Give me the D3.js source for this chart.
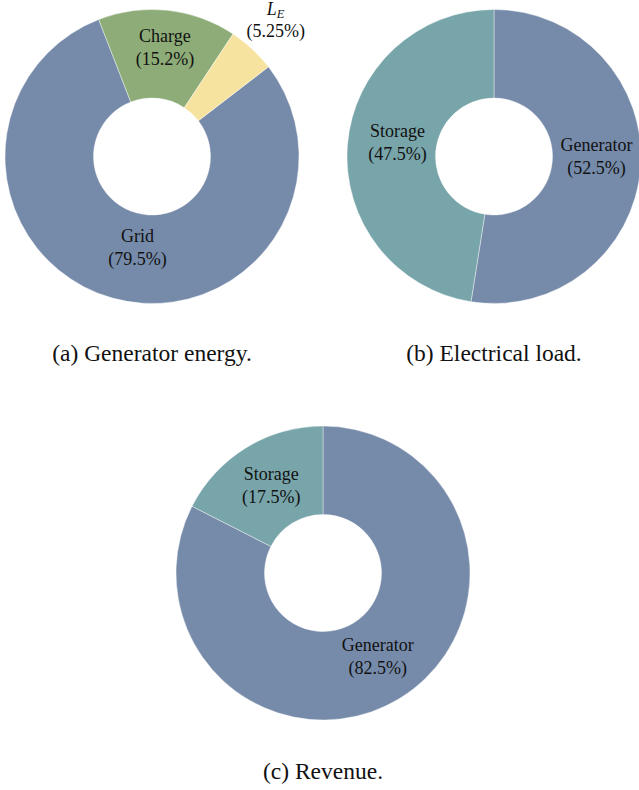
<!DOCTYPE html>
<html><head><meta charset="utf-8">
<script src="https://cdn.jsdelivr.net/npm/d3@7"></script>
<style>
body{margin:0;background:#fff}
#wrap{position:relative;width:639px;height:790px;overflow:hidden}
#wrap svg{position:absolute;left:0;top:0;display:block}
.lbl{position:absolute;white-space:nowrap;transform:translateX(-50%);
     font-family:"Liberation Serif", serif;color:#111;margin:0;padding:0}
</style>
</head><body><div id="wrap"><svg id="c" width="639" height="790"></svg></div>
<script>
// ---- data ----
const energyCategories = ["Grid", "Charge", "L_E"];
const energyValues = [79.5, 15.2, 5.25];
const loadCategories = ["Generator", "Storage"];
const loadValues = [52.5, 47.5];
const revenueCategories = ["Generator", "Storage"];
const revenueValues = [82.5, 17.5];
const captions = ["(a) Generator energy.", "(b) Electrical load.", "(c) Revenue."];

// ---- styles / layout ----
const colorOf = {Grid:"#768baa", Generator:"#768baa", Charge:"#8dac78", L_E:"#f7e3a0", Storage:"#78a5aa"};
const rOuter = 147, rInner = 58.5;
const deg = Math.PI/180;
const panels = [
  {cats:energyCategories, vals:energyValues, cx:152, cy:156.5, start:52.4, capY:362,
   nudge:{Grid:[13,-7.5], Charge:[2,-7]}, outside:{L_E:[181.5,-2]}},
  {cats:loadCategories, vals:loadValues, cx:494, cy:156.5, start:0, capY:362,
   nudge:{Generator:[0,-7.5], Storage:[6,-6]}, outside:{}},
  {cats:revenueCategories, vals:revenueValues, cx:323, cy:573, start:0, capY:780,
   nudge:{Generator:[1,-4], Storage:[2,0]}, outside:{}}
];

const svg = d3.select("#c");
const wrap = d3.select("#wrap");
const arc = d3.arc().innerRadius(rInner).outerRadius(rOuter);

// HTML text line centred at x with its baseline at y (Liberation Serif metrics)
function line(x, y, size) {
  const baselineFromTop = size * 0.838; // line-height = 1
  return wrap.append("div").attr("class","lbl")
    .style("left", x + "px").style("top", (y - baselineFromTop) + "px")
    .style("font-size", size + "px").style("line-height", size + "px");
}

panels.forEach((p, pi) => {
  const data = p.cats.map((c,i)=>({cat:c, val:p.vals[i]}));
  const pie = d3.pie().value(d=>d.val).sort(null)
    .startAngle(p.start*deg).endAngle(p.start*deg + 2*Math.PI);
  const arcs = pie(data);
  const g = svg.append("g").attr("transform",`translate(${p.cx},${p.cy})`);
  g.selectAll("path").data(arcs).join("path")
    .attr("d", arc)
    .attr("fill", d=>colorOf[d.data.cat])
    .attr("stroke","#ffffff").attr("stroke-width",0.4);

  arcs.forEach(a => {
    const cat = a.data.cat;
    const pct = a.data.val + "%";
    let x, y;
    if (p.outside[cat]) {
      const [rr, dy] = p.outside[cat];
      const mid = (a.startAngle + a.endAngle)/2;
      x = p.cx + rr*Math.sin(mid); y = p.cy - rr*Math.cos(mid) + dy;
      const l1 = line(x, y - 6.5, 18);
      l1.append("span").style("font-style","italic").text("L");
      l1.append("span").style("font-style","italic").style("font-size","12.5px")
        .style("position","relative").style("top","3px").text("E");
      line(x, y + 15, 18).text("(" + pct + ")");
    } else {
      const c = arc.centroid(a);
      const n = p.nudge[cat] || [0,0];
      x = p.cx + c[0] + n[0]; y = p.cy + c[1] + n[1];
      line(x, y - 5.5, 18).text(cat);
      line(x, y + 17.5, 18).text("(" + pct + ")");
    }
  });

  line(p.cx, p.capY, 23.5).text(captions[pi]);
});
</script>
</body></html>
